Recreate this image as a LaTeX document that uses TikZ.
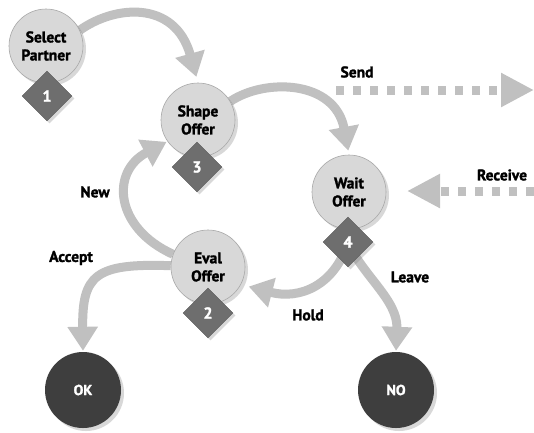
\documentclass[tikz,border=0pt]{standalone}
\usepackage{fontspec}
\setmainfont{PT Sans}[BoldFeatures={FakeBold=1.6}]
\usetikzlibrary{arrows.meta,shapes.geometric,shadows,backgrounds}
\definecolor{cfill}{HTML}{D8D8D8}
\definecolor{cborder}{HTML}{A8A8A8}
\definecolor{dfill}{HTML}{6E6E6E}
\definecolor{tfill}{HTML}{3E3E3E}
\definecolor{arr}{HTML}{C0C0C0}
\tikzset{
  state/.style={circle, minimum size=74pt, inner sep=0pt, fill=cfill, draw=cborder, line width=0.6pt,
    drop shadow={shadow xshift=3pt, shadow yshift=-3pt, opacity=0.3},
    font=\fontsize{15.5}{18}\selectfont\bfseries, align=center},
  term/.style={circle, minimum size=76pt, inner sep=0pt, fill=tfill,
    drop shadow={shadow xshift=3pt, shadow yshift=-3pt, opacity=0.3},
    text=white, font=\fontsize{14.5}{16}\selectfont\bfseries},
  num/.style={diamond, aspect=1, minimum width=50pt, minimum height=50pt, inner sep=0pt, fill=dfill,
    draw=dfill!80!black, line width=0.4pt,
    drop shadow={shadow xshift=2.5pt, shadow yshift=-2.5pt, opacity=0.3},
    text=white, font=\fontsize{16}{18}\selectfont\bfseries},
  lbl/.style={font=\fontsize{15.5}{18}\selectfont\bfseries, inner sep=0pt},
  flow/.style={draw=arr, line width=9pt, -{Triangle[width=29pt,length=24pt]}},
  msg/.style={draw=arr, line width=9pt, dash pattern=on 8pt off 9pt, -{Triangle[width=32pt,length=33pt]}}
}
\begin{document}
\begin{tikzpicture}[x=1pt,y=-1pt]
\useasboundingbox (0,0) rectangle (534,432);
% states
\node[state] (sel) at (46,46) {Select\\Partner};
\node[state] (shape) at (198,120) {Shape\\Offer};
\node[state] (wait) at (349,192) {Wait\\Offer};
\node[state] (eval) at (208,267) {Eval\\Offer};
\node[term] (ok) at (83,390) {OK};
\node[term] (no) at (396,390) {NO};
% numbers
\node[num] (d1) at (47,96) {1};
\node[num] (d3) at (197,167) {3};
\node[num] (d4) at (348,242) {4};
\node[num] (d2) at (208,313) {2};
% labels
\node[lbl] (lsend) at (357,72) {Send};
\node[lbl] (lrecv) at (502,175) {Receive};
\node[lbl] (lnew) at (95,192) {New};
\node[lbl] (lacc) at (71,258) {Accept};
\node[lbl] (lleave) at (410,277) {Leave};
\node[lbl] (lhold) at (308,315) {Hold};
% message coordinates
\coordinate (sA) at (336,90);
\coordinate (sB) at (534,90);
\coordinate (rA) at (534,191);
\coordinate (rB) at (407,191);
\begin{scope}[on background layer]
\fill[white] (0,0) rectangle (534,432);
\draw[flow, shorten >=6pt] (sel.25) .. controls (115,5) and (175,0) .. (shape.north);
\draw[flow, shorten >=4pt] (shape.30) .. controls (265,78) and (335,80) .. (wait.north);
\draw[flow, shorten >=8pt] (d4.center) .. controls (335,285) and (300,300) .. (eval.-28);
\draw[flow, shorten >=1pt] (d4.center) .. controls (362,275) and (398,300) .. (no.north);
\draw[flow, shorten >=1pt] (eval.160) .. controls (115,228) and (110,172) .. (shape.215);
\draw[flow, shorten >=1pt] (eval.178) .. controls (95,263) and (82,275) .. (ok.north);
\draw[msg] (sA) -- (sB);
\draw[msg] (rA) -- (rB);
\end{scope}
\end{tikzpicture}
\end{document}
